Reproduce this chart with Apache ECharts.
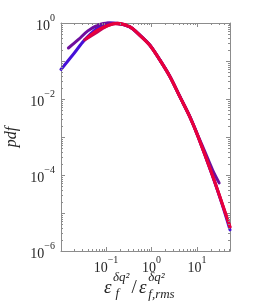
<!DOCTYPE html>
<html>
<head>
<meta charset="utf-8">
<script src="https://cdn.jsdelivr.net/npm/echarts@6/dist/echarts.min.js"></script>
<style>html,body{margin:0;padding:0;background:#fff}#c{width:254px;height:304px}</style>
</head>
<body>
<div id="c"></div>
<script>
// data
const blueX   = [0.0103, 0.02, 0.034, 0.066, 0.12, 0.18, 0.33, 0.55, 0.92, 1.52, 2.53, 4.19, 6.95, 10.5, 22, 35, 53];
const blueY   = [0.06, 0.16, 0.36, 0.74, 1.0, 0.97, 0.79, 0.48, 0.26, 0.107, 0.039, 0.0115, 0.0034, 0.00104, 9.3e-5, 1.8e-5, 3.6e-6];
const purpleX = [0.015, 0.025, 0.04, 0.07, 0.11, 0.18, 0.33, 0.55, 0.92, 1.52, 2.53, 4.19, 6.95, 10.5, 15, 22, 30.6];
const purpleY = [0.22, 0.37, 0.62, 0.9, 1.0, 0.98, 0.8, 0.49, 0.265, 0.109, 0.04, 0.0118, 0.0035, 0.00108, 4.0e-4, 1.35e-4, 6.2e-5];
const magX    = [0.034, 0.06, 0.1, 0.16, 0.33, 0.55, 0.92, 1.52, 2.53, 4.19, 6.95, 10.5, 22, 53];
const magY    = [0.36, 0.55, 0.8, 0.95, 0.8, 0.48, 0.26, 0.107, 0.039, 0.0115, 0.0034, 0.00104, 9.5e-5, 4.3e-6];
const redX    = [0.038, 0.067, 0.11, 0.18, 0.33, 0.55, 0.92, 1.52, 2.53, 4.19, 6.95, 10.5, 22, 53];
const redY    = [0.40, 0.66, 0.86, 0.98, 0.80, 0.48, 0.26, 0.107, 0.039, 0.0115, 0.0034, 0.00104, 9.5e-5, 4.3e-6];
const xMin = 0.0103, xMax = 53, yMin = 1e-6, yMax = 1;
const minorX = [0.02,0.03,0.04,0.05,0.06,0.07,0.08,0.09,0.2,0.3,0.4,0.5,0.6,0.7,0.8,0.9,2,3,4,5,6,7,8,9,20,30,40,50];
const minorY = [];
[1e-6,1e-5,1e-4,1e-3,1e-2,1e-1].forEach(d => { for (let k = 2; k <= 9; k++) minorY.push(+(k*d).toPrecision(3)); });
const yLabelExps = [0, -2, -4, -6];
const xLabelExps = [-1, 0, 1];

const zip = (a, b) => a.map((v, i) => [v, b[i]]);
const AX = '#8c8c8c', TXT = '#262626', SERIF = 'Liberation Serif';

function fmt(list) {
  return function (v) {
    const l = Math.log10(v), e = Math.round(l);
    if (Math.abs(l - e) > 1e-6 || list.indexOf(e) < 0) return '';
    return '{b|10}{s|' + (e < 0 ? '\u2212' : '') + Math.abs(e) + '}';
  };
}
const rich = {
  b: { fontSize: 14, fontFamily: SERIF, color: TXT, lineHeight: 20, verticalAlign: 'bottom' },
  s: { fontSize: 10, fontFamily: SERIF, color: TXT, lineHeight: 12, verticalAlign: 'top' }
};
function axisCommon(extra) {
  return Object.assign({
    type: 'log', logBase: 10,
    axisLine: { show: true, lineStyle: { color: AX, width: 1 } },
    axisTick: { show: true, inside: true, length: 4, lineStyle: { color: AX } },
    splitLine: { show: false }
  }, extra);
}
const line = (name, x, y, color) => ({
  type: 'line', name, data: zip(x, y), smooth: 0.3, showSymbol: false, symbol: 'none',
  clip: false, lineStyle: { color, width: 3, cap: 'round', join: 'round' }, z: 3
});
const txt = (s, x, y, size, italic) => ({
  type: 'text', x, y,
  style: { text: s, fontFamily: SERIF, fontStyle: italic ? 'italic' : 'normal', fontSize: size, fill: TXT, align: 'left', verticalAlign: 'middle' }
});

const chart = echarts.init(document.getElementById('c'), null, { renderer: 'canvas' });
chart.setOption({
  animation: false,
  backgroundColor: '#fff',
  grid: { left: 61, right: 24, top: 23, bottom: 53, containLabel: false, outerBoundsMode: 'none' },
  xAxis: [
    axisCommon({ position: 'bottom', min: xMin, max: xMax,
      axisLabel: { show: true, margin: 4, formatter: fmt(xLabelExps), rich, showMinLabel: false, showMaxLabel: false } }),
    axisCommon({ position: 'top', min: xMin, max: xMax, axisLabel: { show: false } })
  ],
  yAxis: [
    axisCommon({ position: 'left', min: yMin, max: yMax,
      name: 'pdf', nameLocation: 'middle', nameGap: 40, nameRotate: 90,
      nameTextStyle: { fontFamily: SERIF, fontStyle: 'italic', fontSize: 16, color: TXT },
      axisLabel: { show: true, margin: 6, formatter: fmt(yLabelExps), rich } }),
    axisCommon({ position: 'right', min: yMin, max: yMax, axisLabel: { show: false } })
  ],
  series: [
    line('blue', blueX, blueY, '#4510d8'),
    line('purple', purpleX, purpleY, '#6e0e9e'),
    line('magenta', magX, magY, '#c0045a'),
    line('red', redX, redY, '#e8003c'),
    {
      type: 'custom', silent: true, z: 5, clip: false,
      data: minorX.map(v => [v, 1]),
      renderItem: function (params, api) {
        const cs = params.coordSys;
        const px = Math.round(api.coord([api.value(0), 1])[0]) + 0.5;
        const st = { stroke: AX, lineWidth: 1 };
        return { type: 'group', children: [
          { type: 'line', shape: { x1: px, y1: cs.y + cs.height, x2: px, y2: cs.y + cs.height - 2 }, style: st },
          { type: 'line', shape: { x1: px, y1: cs.y, x2: px, y2: cs.y + 2 }, style: st }
        ] };
      }
    },
    {
      type: 'custom', silent: true, z: 5, clip: false,
      data: minorY.map(v => [1, v]),
      renderItem: function (params, api) {
        const cs = params.coordSys;
        const py = Math.round(api.coord([1, api.value(1)])[1]) + 0.5;
        const st = { stroke: AX, lineWidth: 1 };
        return { type: 'group', children: [
          { type: 'line', shape: { x1: cs.x, y1: py, x2: cs.x + 2, y2: py }, style: st },
          { type: 'line', shape: { x1: cs.x + cs.width, y1: py, x2: cs.x + cs.width - 2, y2: py }, style: st }
        ] };
      }
    }
  ],
  graphic: [
    txt('\u03b5', 104, 287.5, 19, true),
    txt('\u03b4q\u00b2', 113, 278, 13, true),
    txt('f', 115.5, 294, 13, true),
    txt('/', 131.5, 288, 19, false),
    txt('\u03b5', 139, 287.5, 19, true),
    txt('\u03b4q\u00b2', 148.3, 278, 13, true),
    txt('f,rms', 148.3, 295, 13, true)
  ]
});
</script>
</body>
</html>
